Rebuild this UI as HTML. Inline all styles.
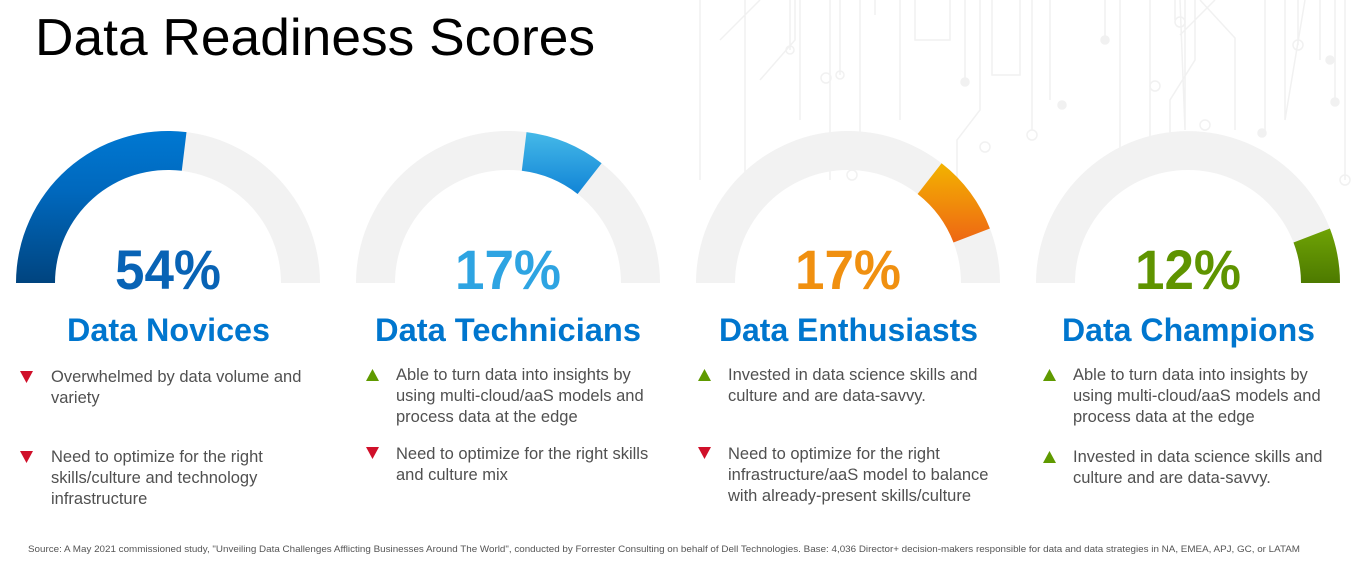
<!DOCTYPE html>
<html><head><meta charset="utf-8"><style>
html,body{margin:0;padding:0;background:#fff;}
svg{display:block;}
.b{font-family:"Liberation Sans",sans-serif;font-size:16.5px;fill:#505050;}
.t{font-family:"Liberation Sans",sans-serif;font-weight:bold;font-size:32px;fill:#0076ce;}
.p{font-family:"Liberation Sans",sans-serif;font-weight:bold;font-size:56px;}
</style></head><body>
<svg width="1361" height="564" viewBox="0 0 1361 564" xmlns="http://www.w3.org/2000/svg">
<defs>
<linearGradient id="g1" x1="0" y1="1" x2="0" y2="0"><stop offset="0" stop-color="#00447f"/><stop offset="0.6" stop-color="#0068bd"/><stop offset="1" stop-color="#0078d2"/></linearGradient>
<linearGradient id="g2" x1="0" y1="1" x2="0" y2="0"><stop offset="0" stop-color="#1184d6"/><stop offset="1" stop-color="#45b9e8"/></linearGradient>
<linearGradient id="g3" x1="0" y1="1" x2="0" y2="0"><stop offset="0" stop-color="#ee6614"/><stop offset="1" stop-color="#f3b300"/></linearGradient>
<linearGradient id="g4" x1="0" y1="1" x2="0" y2="0"><stop offset="0" stop-color="#4d7a00"/><stop offset="1" stop-color="#6fa305"/></linearGradient>
</defs>
<g stroke="#f1f1f1" stroke-width="1.5" fill="none">
<path d="M700 0 V180 M720 40 L760 0 M745 0 V230 M760 80 L795 40 V0 M790 0 V50 M800 0 V120 M830 0 V180 M840 0 V75 M860 0 V140 M875 0 V15 M900 0 V120 M915 0 V40 H950 V0 M965 0 V80 M980 0 V110 L957 140 V200 M992 0 V75 H1020 V0 M1032 0 V130 M1050 0 V100 M1105 0 V40 M1120 0 V150 M1150 0 V140 M1175 0 V20 M1185 0 V130 L1180 0 M1195 0 V60 L1170 100 V150 M1200 0 L1235 38 V130 M1215 0 L1180 35 M1265 0 V130 M1298 0 V45 M1285 0 V120 L1305 0 M1320 0 V60 M1335 0 V100 M1345 0 V180"/>
<circle cx="790" cy="50" r="4"/><circle cx="826" cy="78" r="5"/><circle cx="840" cy="75" r="4"/><circle cx="852" cy="175" r="5"/><circle cx="965" cy="82" r="4" fill="#f1f1f1"/><circle cx="1032" cy="135" r="5"/><circle cx="1105" cy="40" r="4" fill="#f1f1f1"/><circle cx="1120" cy="155" r="5"/><circle cx="1180" cy="22" r="5"/><circle cx="1155" cy="86" r="5"/><circle cx="1205" cy="125" r="5"/><circle cx="1262" cy="133" r="4" fill="#f1f1f1"/><circle cx="1298" cy="45" r="5"/><circle cx="1335" cy="102" r="4" fill="#f1f1f1"/><circle cx="1345" cy="180" r="5"/><circle cx="1330" cy="60" r="4" fill="#f1f1f1"/><circle cx="1062" cy="105" r="4" fill="#f1f1f1"/><circle cx="985" cy="147" r="5"/>
</g>
<text x="35" y="55" font-family="Liberation Sans, sans-serif" font-size="52" fill="#000" textLength="560" lengthAdjust="spacingAndGlyphs">Data Readiness Scores</text>

<path d="M16 283 A152 152 0 0 1 320 283 L281 283 A113 113 0 0 0 55 283 Z" fill="#f2f2f2"/>
<path d="M16 283 A152 152 0 0 1 186.5 132.1 L181.8 170.8 A113 113 0 0 0 55 283 Z" fill="url(#g1)"/>
<path d="M356 283 A152 152 0 0 1 660 283 L621 283 A113 113 0 0 0 395 283 Z" fill="#f2f2f2"/>
<path d="M526.5 132.1 A152 152 0 0 1 601.6 163.2 L577.6 194 A113 113 0 0 0 521.8 170.8 Z" fill="url(#g2)"/>
<path d="M696 283 A152 152 0 0 1 1000 283 L961 283 A113 113 0 0 0 735 283 Z" fill="#f2f2f2"/>
<path d="M941.6 163.2 A152 152 0 0 1 989.9 228.5 L953.5 242.5 A113 113 0 0 0 917.6 194 Z" fill="url(#g3)"/>
<path d="M1036 283 A152 152 0 0 1 1340 283 L1301 283 A113 113 0 0 0 1075 283 Z" fill="#f2f2f2"/>
<path d="M1329.9 228.5 A152 152 0 0 1 1340 283 L1301 283 A113 113 0 0 0 1293.5 242.5 Z" fill="url(#g4)"/>

<text class="p" x="168" y="289" text-anchor="middle" fill="#0863b5" textLength="106" lengthAdjust="spacingAndGlyphs">54%</text>
<text class="p" x="508" y="289" text-anchor="middle" fill="#2ea4e2" textLength="106" lengthAdjust="spacingAndGlyphs">17%</text>
<text class="p" x="848" y="289" text-anchor="middle" fill="#f09010" textLength="106" lengthAdjust="spacingAndGlyphs">17%</text>
<text class="p" x="1188" y="289" text-anchor="middle" fill="#5f9400" textLength="106" lengthAdjust="spacingAndGlyphs">12%</text>

<text class="t" x="67" y="341" textLength="203" lengthAdjust="spacingAndGlyphs">Data Novices</text>
<text class="t" x="375" y="341" textLength="266" lengthAdjust="spacingAndGlyphs">Data Technicians</text>
<text class="t" x="719" y="341" textLength="259" lengthAdjust="spacingAndGlyphs">Data Enthusiasts</text>
<text class="t" x="1062" y="341" textLength="253" lengthAdjust="spacingAndGlyphs">Data Champions</text>

<g fill="#d0102a">
<path d="M20 371 H33 L26.5 383 Z"/><path d="M20 451 H33 L26.5 463 Z"/>
<path d="M366 447 H379 L372.5 459 Z"/><path d="M698 447 H711 L704.5 459 Z"/>
</g>
<g fill="#5f9a00">
<path d="M366 381 H379 L372.5 369 Z"/><path d="M698 381 H711 L704.5 369 Z"/>
<path d="M1043 381 H1056 L1049.5 369 Z"/><path d="M1043 463 H1056 L1049.5 451 Z"/>
</g>

<text class="b" x="51" y="382">Overwhelmed by data volume and</text>
<text class="b" x="51" y="403">variety</text>
<text class="b" x="51" y="462">Need to optimize for the right</text>
<text class="b" x="51" y="483">skills/culture and technology</text>
<text class="b" x="51" y="504">infrastructure</text>

<text class="b" x="396" y="380">Able to turn data into insights by</text>
<text class="b" x="396" y="401">using multi-cloud/aaS models and</text>
<text class="b" x="396" y="422">process data at the edge</text>
<text class="b" x="396" y="459">Need to optimize for the right skills</text>
<text class="b" x="396" y="480">and culture mix</text>

<text class="b" x="728" y="380">Invested in data science skills and</text>
<text class="b" x="728" y="401">culture and are data-savvy.</text>
<text class="b" x="728" y="459">Need to optimize for the right</text>
<text class="b" x="728" y="480">infrastructure/aaS model to balance</text>
<text class="b" x="728" y="501">with already-present skills/culture</text>

<text class="b" x="1073" y="380">Able to turn data into insights by</text>
<text class="b" x="1073" y="401">using multi-cloud/aaS models and</text>
<text class="b" x="1073" y="422">process data at the edge</text>
<text class="b" x="1073" y="462">Invested in data science skills and</text>
<text class="b" x="1073" y="483">culture and are data-savvy.</text>

<text x="28" y="552" font-family="Liberation Sans, sans-serif" font-size="9.5" fill="#555" textLength="1272" lengthAdjust="spacingAndGlyphs">Source: A May 2021 commissioned study, "Unveiling Data Challenges Afflicting Businesses Around The World", conducted by Forrester Consulting on behalf of Dell Technologies. Base: 4,036 Director+ decision-makers responsible for data and data strategies in NA, EMEA, APJ, GC, or LATAM</text>
</svg>
</body></html>
